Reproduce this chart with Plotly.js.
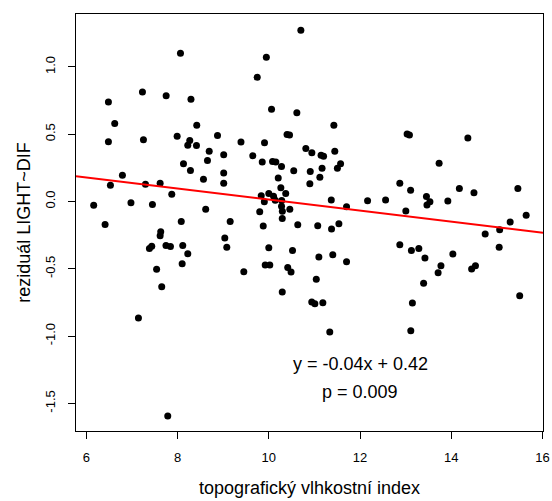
<!DOCTYPE html>
<html>
<head>
<meta charset="utf-8">
<script src="https://cdn.plot.ly/plotly-3.0.1.min.js"></script>
<style>
  html, body { margin: 0; padding: 0; background: #ffffff; }
  #chart { width: 552px; height: 501px; }
</style>
</head>
<body>
<div id="chart"></div>
<script>
// topografický vlhkostní index (x) and residual LIGHT~DIF (y)
const twi = [
  6.160, 6.410, 6.483, 6.483, 6.527, 6.621, 6.790, 6.977, 7.141, 7.229,
  7.251, 7.295, 7.382, 7.433, 7.448, 7.540, 7.617, 7.630, 7.617, 7.652,
  7.745, 7.749, 7.784, 7.843, 7.872, 7.990, 8.063, 8.080, 8.100, 8.113,
  8.129, 8.223, 8.223, 8.267, 8.282, 8.293, 8.414, 8.420, 8.567, 8.616,
  8.655, 8.693, 8.875, 9.011, 9.011, 9.011, 9.035, 9.079, 9.153, 9.390,
  9.452, 9.649, 9.746, 9.801, 9.834, 9.856, 9.878, 9.902, 9.906, 9.921,
  9.946, 10.000, 10.000, 10.022, 10.060, 10.082, 10.104, 10.141, 10.154, 10.207,
  10.264, 10.279, 10.283, 10.279, 10.297, 10.295, 10.295, 10.371, 10.400, 10.455,
  10.415, 10.461, 10.488, 10.520, 10.547, 10.615, 10.635, 10.703, 10.812, 10.900,
  10.909, 10.944, 10.942, 11.010, 11.041, 11.073, 11.098, 11.120, 11.146, 11.201,
  11.168, 11.185, 11.337, 11.370, 11.376, 11.403, 11.427, 11.447, 11.504, 11.537,
  11.574, 11.705, 11.705, 12.166, 12.561, 12.873, 12.873, 13.005, 13.033, 13.084,
  13.110, 13.114, 13.127, 13.149, 13.290, 13.395, 13.424, 13.457, 13.533, 13.468,
  13.713, 13.735, 13.775, 13.926, 14.036, 14.179, 14.365, 14.448, 14.532, 14.499,
  14.745, 15.052, 15.063, 15.293, 15.462, 15.502, 15.644
];
const residual = [
  -0.027, -0.171, 0.740, 0.443, 0.121, 0.579, 0.195, -0.009, -0.866, 0.814,
  0.458, 0.128, -0.349, -0.332, -0.022, -0.503, 0.136, -0.225, -0.255, -0.633,
  -0.327, 0.785, -1.594, -0.334, 0.054, 0.485, 1.102, -0.148, -0.463, -0.327,
  0.280, 0.418, -0.388, 0.453, 0.230, 0.759, 0.416, 0.566, 0.166, -0.058,
  0.304, 0.373, 0.491, 0.347, 0.212, 0.135, -0.271, -0.339, -0.148, 0.442,
  -0.522, 0.339, 0.923, -0.076, 0.042, 0.293, -0.182, -0.002, 0.436, -0.471,
  1.071, 0.059, -0.344, -0.471, 0.685, 0.298, 0.039, 0.010, 0.293, 0.174,
  0.102, 0.260, 0.007, -0.035, -0.072, -0.126, -0.672, 0.059, 0.497, 0.494,
  -0.490, -0.057, -0.523, -0.364, 0.229, 0.659, -0.172, 1.272, 0.393, 0.131,
  0.223, 0.362, -0.746, -0.759, -0.577, -0.180, -0.412, 0.180, 0.344, 0.336,
  0.247, -0.752, -0.970, 0.011, -0.204, -0.396, 0.566, 0.373, 0.247, -0.166,
  0.281, -0.039, -0.448, 0.005, 0.011, 0.136, -0.321, -0.071, 0.501, 0.494,
  0.084, -0.960, -0.364, -0.754, -0.349, -0.607, -0.419, 0.037, -0.002, -0.026,
  -0.529, 0.284, -0.477, 0.004, -0.390, 0.097, 0.471, -0.501, -0.477, 0.065,
  -0.241, -0.339, -0.210, -0.152, 0.097, -0.700, -0.102
];
// fitted line
const fitSlope = -0.041;
const fitIntercept = 0.424;
const xTicks = [6, 8, 10, 12, 14, 16];
const yTicks = [-1.5, -1.0, -0.5, 0.0, 0.5, 1.0];
const xTitle = 'topografický vlhkostní index';
const yTitle = 'reziduál LIGHT~DIF';
const eqText = 'y = -0.04x + 0.42';
const pText = 'p = 0.009';

const xRange = [5.772, 16.013];
const yRange = [-1.705, 1.393];

const font = 'Liberation Sans, Arial, Helvetica, sans-serif';

const points = {
  x: twi, y: residual, type: 'scatter', mode: 'markers',
  marker: { color: '#000000', size: 7, line: { width: 0 } },
  hoverinfo: 'skip', showlegend: false
};
const fit = {
  x: xRange, y: xRange.map(v => fitIntercept + fitSlope * v),
  type: 'scatter', mode: 'lines',
  line: { color: '#ff0000', width: 2 },
  hoverinfo: 'skip', showlegend: false, cliponaxis: true
};

const layout = {
  width: 552, height: 501,
  margin: { l: 76, r: 9, t: 14, b: 70, pad: 0 },
  paper_bgcolor: '#ffffff', plot_bgcolor: '#ffffff',
  font: { family: font, color: '#000000', size: 13 },
  showlegend: false,
  xaxis: {
    range: xRange, tickvals: xTicks, ticktext: xTicks.map(String),
    showgrid: false, zeroline: false,
    showline: true, mirror: true, linecolor: '#000000', linewidth: 1,
    ticks: 'outside', ticklen: 7, tickwidth: 1, tickcolor: '#000000',
    ticklabelstandoff: 7,
    tickfont: { family: font, size: 13, color: '#000000' },
    title: { text: xTitle, font: { family: font, size: 18, color: '#000000' }, standoff: 17 }
  },
  yaxis: {
    range: yRange, tickvals: yTicks, ticktext: yTicks.map(v => v.toFixed(1)),
    tickangle: -90,
    showgrid: false, zeroline: false,
    showline: true, mirror: true, linecolor: '#000000', linewidth: 1,
    ticks: 'outside', ticklen: 7, tickwidth: 1, tickcolor: '#000000',
    ticklabelstandoff: 8,
    tickfont: { family: font, size: 13, color: '#000000' },
    title: { text: yTitle, font: { family: font, size: 18, color: '#000000' }, standoff: 7 }
  },
  annotations: [
    { text: eqText, xref: 'x', yref: 'y', x: 12.0, y: -1.21, showarrow: false,
      font: { family: font, size: 18, color: '#000000' }, xanchor: 'center', yanchor: 'middle' },
    { text: pText, xref: 'x', yref: 'y', x: 12.0, y: -1.415, showarrow: false,
      font: { family: font, size: 18, color: '#000000' }, xanchor: 'center', yanchor: 'middle' }
  ]
};

Plotly.newPlot('chart', [points, fit], layout, { staticPlot: true, displayModeBar: false });
</script>
</body>
</html>
